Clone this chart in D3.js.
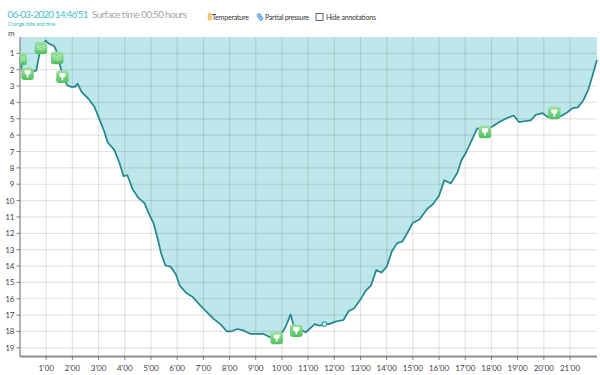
<!DOCTYPE html>
<html><head><meta charset="utf-8">
<script src="https://cdn.jsdelivr.net/npm/d3@7"></script>
<style>html,body{margin:0;padding:0;background:#fff;overflow:hidden}svg{display:block}text{font-family:Lato,"Open Sans",sans-serif}</style>
</head><body><svg id="c" width="600" height="375"></svg>
<script>
const hours=[0,0.08,0.2,0.3,0.45,0.62,0.7,0.78,0.88,0.98,1.1,1.3,1.38,1.45,1.52,1.6,1.7,1.8,1.95,2.1,2.2,2.35,2.6,2.85,3,3.2,3.35,3.6,3.8,3.95,4.1,4.3,4.5,4.75,4.95,5.1,5.25,5.4,5.55,5.75,5.95,6.1,6.35,6.6,6.85,7.15,7.4,7.65,7.9,8.05,8.3,8.55,8.8,9.1,9.3,9.55,9.8,10.0,10.15,10.33,10.5,10.7,10.9,11.05,11.25,11.45,11.62,11.8,12.05,12.35,12.55,12.75,13.0,13.2,13.4,13.6,13.8,14.0,14.2,14.4,14.6,14.8,15.0,15.25,15.55,15.75,16.0,16.2,16.45,16.7,16.85,17.05,17.25,17.45,17.7,17.9,18.05,18.3,18.6,18.85,19.05,19.25,19.5,19.7,19.95,20.15,20.4,20.65,20.9,21.1,21.3,21.5,21.7,21.85,22.03];
const depths=[1.3,2.0,2.3,2.25,2.15,2.05,1.4,0.7,0.4,0.22,0.4,0.55,0.8,1.3,1.7,2.2,2.6,2.95,3.05,3.05,2.85,3.35,3.75,4.3,4.9,5.7,6.45,6.9,7.7,8.5,8.45,9.3,9.8,10.15,10.9,11.4,12.3,13.3,13.95,14.05,14.5,15.2,15.65,15.9,16.35,16.85,17.25,17.55,18.0,18.0,17.85,17.95,18.15,18.15,18.15,18.35,18.35,18.1,17.7,16.95,17.95,17.9,18.05,17.85,17.55,17.65,17.55,17.55,17.4,17.3,16.75,16.6,16.05,15.5,15.2,14.25,14.4,14.05,13.1,12.6,12.5,11.95,11.35,11.15,10.5,10.25,9.7,8.75,8.95,8.3,7.55,7.0,6.3,5.6,5.55,5.6,5.45,5.2,4.95,4.8,5.2,5.15,5.1,4.75,4.65,4.9,4.7,4.85,4.6,4.35,4.3,3.9,3.2,2.4,1.4];
const timeTicks=["1'00","2'00","3'00","4'00","5'00","6'00","7'00","8'00","9'00","10'00","11'00","12'00","13'00","14'00","15'00","16'00","17'00","18'00","19'00","20'00","21'00"];
const tickHours=d3.range(1,22);
const depthTicks=d3.range(1,20);
const markerHours=[0.02,0.29,0.8,1.42,1.62,9.8,10.55,17.75,20.4];
const markerDepths=[1.35,2.25,0.67,1.28,2.43,18.4,17.95,5.8,4.65];
const markerKinds=["wave","drop","wave","wave","drop","drop","drop","drop","drop"];

const x=d3.scaleLinear().domain([0,22.03]).range([20,597]);
const y=d3.scaleLinear().domain([0,19.5]).range([37,356]);
const svg=d3.select("#c");
const pts=hours.map((h,i)=>[h,depths[i]]);

// fill
const area=d3.area().x(d=>x(d[0])).y0(y(0)).y1(d=>y(d[1]));
svg.append("path").datum(pts).attr("d",area).attr("fill","#bde7ea");

// grid over the fill, translucent so that it darkens inside it
const g=svg.append("g");
const gridColor="rgba(0,0,0,0.1)";
g.selectAll(".v").data(tickHours).join("line").attr("x1",d=>x(d)).attr("x2",d=>x(d)).attr("y1",37).attr("y2",356).attr("stroke",gridColor).attr("stroke-width",1.2);
g.selectAll(".h").data(depthTicks).join("line").attr("x1",20).attr("x2",597).attr("y1",d=>y(d)).attr("y2",d=>y(d)).attr("stroke",gridColor).attr("stroke-width",1.2);

// axes
svg.append("line").attr("x1",20).attr("x2",20).attr("y1",37).attr("y2",357).attr("stroke","#8a8a8a").attr("stroke-width",1.3);
svg.append("line").attr("x1",20).attr("x2",597).attr("y1",356.5).attr("y2",356.5).attr("stroke","#8f8f8f").attr("stroke-width",2);
const ax=svg.append("g");
ax.selectAll(".tk").data(tickHours).join("line").attr("x1",d=>x(d)).attr("x2",d=>x(d)).attr("y1",356).attr("y2",360).attr("stroke","#666").attr("stroke-width",0.8);
ax.selectAll(".dt").data(depthTicks).join("line").attr("x1",16.5).attr("x2",20).attr("y1",d=>y(d)).attr("y2",d=>y(d)).attr("stroke","#666").attr("stroke-width",0.8);
ax.selectAll(".tl").data(tickHours).join("text").attr("x",d=>x(d)).attr("y",370.5).attr("text-anchor","middle").attr("font-size",8).attr("fill","#444").text((d,i)=>timeTicks[i]);
ax.selectAll(".dl").data(depthTicks).join("text").attr("x",14.5).attr("y",d=>y(d)+3).attr("text-anchor","end").attr("font-size",8).attr("fill","#444").text(d=>d);
svg.append("text").attr("x",8).attr("y",36).attr("font-size",8).attr("fill","#444").text("m");

// line
svg.append("path").datum(pts).attr("d",d3.line().x(d=>x(d[0])).y(d=>y(d[1]))).attr("fill","none").attr("stroke","#22868f").attr("stroke-width",1.7).attr("stroke-linejoin","round");
svg.append("circle").attr("cx",x(11.62)).attr("cy",y(17.55)).attr("r",2.2).attr("fill","#fff").attr("stroke","#2aa6b2").attr("stroke-width",1.2);

// markers
const defs=svg.append("defs");
const grad=defs.append("linearGradient").attr("id","mg").attr("x1",0).attr("x2",0).attr("y1",0).attr("y2",1);
grad.append("stop").attr("offset","0%").attr("stop-color","#a0e2a0");
grad.append("stop").attr("offset","100%").attr("stop-color","#4fbf60");
const clip=defs.append("clipPath").attr("id","pc");
clip.append("rect").attr("x",20).attr("y",30).attr("width",580).attr("height",345);
const mk=svg.append("g").attr("clip-path","url(#pc)").selectAll("g").data(markerHours).join("g").attr("transform",(d,i)=>`translate(${x(d)},${y(markerDepths[i])})`);
mk.append("rect").attr("x",-6.25).attr("y",-6.25).attr("width",12.5).attr("height",12.5).attr("rx",3).attr("fill","url(#mg)");
mk.filter((d,i)=>markerKinds[i]==="drop").append("path").attr("d","M-3,-3.6H3V-1Q3,0.6 0.8,0.8V3.6H-0.8V0.8Q-3,0.6 -3,-1Z").attr("fill","#fff");
mk.filter((d,i)=>markerKinds[i]==="wave").selectAll("path").data([-1.8,0,1.8]).join("path").attr("d",d=>`M-4.5,${d}q1.5,-1.5 3,0t3,0t3,0`).attr("fill","none").attr("stroke","#d6f4d6").attr("stroke-width",0.7);

// header
svg.append("text").attr("x",7.5).attr("y",18).attr("font-size",10).attr("textLength",81).attr("fill","#49bfc9").text("06-03-2020 14:46'51");
svg.append("text").attr("x",92).attr("y",18).attr("font-size",10).attr("textLength",95).attr("fill","#a8a8a8").text("Surface time 00:50 hours");
svg.append("text").attr("x",7.5).attr("y",25.5).attr("font-size",5.5).attr("textLength",48).attr("fill","#49bfc9").text("Change date and time");
svg.append("rect").attr("x",208).attr("y",13).attr("width",3.6).attr("height",7.5).attr("rx",1.5).attr("fill","#f5c878").attr("stroke","#e5a850").attr("stroke-width",0.4);
svg.append("text").attr("x",212).attr("y",20).attr("font-size",7).attr("textLength",37).attr("fill","#333").text("Temperature");
svg.append("circle").attr("cx",259).attr("cy",15.5).attr("r",2).attr("fill","#8cc4ee").attr("stroke","#3b8fd8").attr("stroke-width",0.6);
svg.append("circle").attr("cx",261).attr("cy",18.5).attr("r",2).attr("fill","#8cc4ee").attr("stroke","#3b8fd8").attr("stroke-width",0.6);
svg.append("text").attr("x",265).attr("y",20).attr("font-size",7).attr("textLength",44).attr("fill","#333").text("Partial pressure");
svg.append("rect").attr("x",316).attr("y",13.5).attr("width",7).attr("height",7).attr("fill","#fff").attr("stroke","#555").attr("stroke-width",0.9);
svg.append("text").attr("x",326).attr("y",20).attr("font-size",7).attr("textLength",50).attr("fill","#333").text("Hide annotations");
</script></body></html>
